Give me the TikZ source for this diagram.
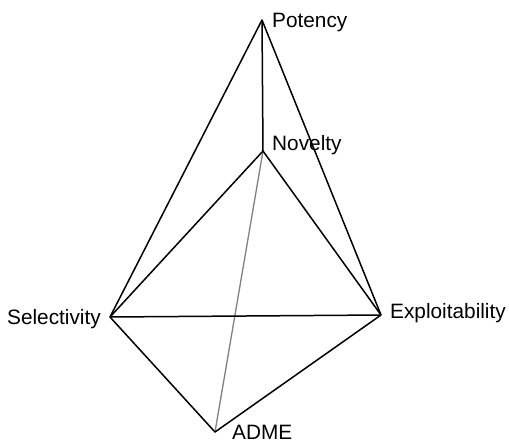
\documentclass[tikz,border=0pt]{standalone}
\usepackage{fontspec}
\setmainfont{Liberation Sans}
\usepackage{tikz}
\usetikzlibrary{calc}
\tikzset{edge/.style={line width=1.5pt}, backedge/.style={line width=1.3pt, black!50}, lbl/.style={inner sep=0pt, font=\fontsize{20.8}{24}\selectfont}}

\begin{document}
\begin{tikzpicture}[x=1pt,y=-1pt]
		%%%%% START %%%%%
		\useasboundingbox (0, 0) rectangle (509, 442);
		
		\coordinate (potency) at (262, 20);
		\coordinate (novelty) at (263, 151);
		\coordinate (selectivity) at (110, 317);
		\coordinate (exploitability) at (381, 315);
		\coordinate (adme) at (215, 432);
		
		\node[lbl, anchor=base west] (potencylabel) at (272, 27) {Potency};
		\node[lbl, anchor=base west] (noveltylabel) at (272, 150) {Novelty};
		\node[lbl, anchor=base east] (selectivitylabel) at (101, 324) {Selectivity};
		\node[lbl, anchor=base west] (exploitabilitylabel) at (390, 318) {Exploitability};
		\node[lbl, anchor=base west] (admelabel) at (232, 439) {ADME};
		
		\draw[backedge] (novelty) -- (adme);
		
		\draw[edge, line join=round] (selectivity) -- (potency) -- (exploitability);
		\draw[edge] (potency) -- (novelty);
		\draw[edge, line join=round] (selectivity) -- (novelty) -- (exploitability);
		\draw[edge] (selectivity) -- (exploitability);
		\draw[edge, line join=round] (selectivity) -- (adme) -- (exploitability);
		%%%%% END %%%%%
	\end{tikzpicture}
\end{document}
